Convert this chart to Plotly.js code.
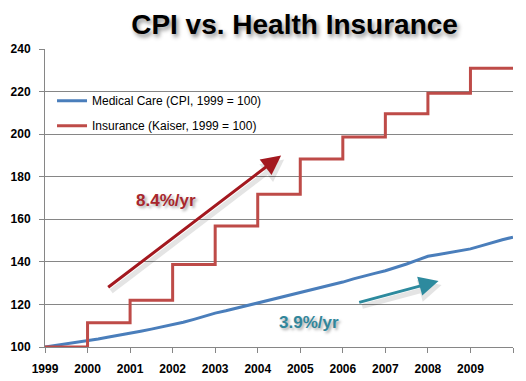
<!DOCTYPE html>
<html>
<head>
<meta charset="utf-8">
<script src="https://cdn.plot.ly/plotly-3.0.1.min.js"></script>
<style>
  html, body { margin: 0; padding: 0; background: #fff; }
  #chart { width: 526px; height: 381px; }
</style>
</head>
<body>
<div id="chart"></div>
<script>
// Years shown on the x axis
const tickYears = [1999, 2000, 2001, 2002, 2003, 2004, 2005, 2006, 2007, 2008, 2009, 2010];
const tickLabels = ["1999", "2000", "2001", "2002", "2003", "2004", "2005", "2006", "2007", "2008", "2009", ""];

// Medical Care CPI (1999 = 100), quarterly readings from Q1 1999 to Q1 2010
const cpiQuarterly = [
  100.0, 100.7, 101.5, 102.2,
  103.0, 103.8, 104.7, 105.5,
  106.4, 107.4, 108.4, 109.4,
  110.4, 111.6, 113.0, 114.5,
  115.9, 117.0, 118.2, 119.4,
  120.6, 121.8, 123.2, 124.5,
  125.7, 126.9, 128.1, 129.3,
  130.5, 132.0, 133.4, 134.6,
  135.8, 137.3, 139.0, 140.8,
  142.6, 143.5, 144.4, 145.2,
  146.1, 147.5, 149.0, 150.4,
  151.6
];

// Insurance premiums (Kaiser, 1999 = 100), one value per year (last = end of 2009)
const insuranceYears = [1999, 2000, 2001, 2002, 2003, 2004, 2005, 2006, 2007, 2008, 2009, 2010];
const insuranceValues = [100, 111.4, 122, 138.7, 156.8, 171.8, 188.3, 198.6, 209.6, 219.2, 231, 231];

const seriesNames = ["Medical Care (CPI, 1999 = 100)", "Insurance (Kaiser, 1999 = 100)"];
const rateLabels = ["8.4%/yr", "3.9%/yr"];

const cpiX = cpiQuarterly.map((_, i) => 1999 + i / 4);

const traces = [
  {
    x: cpiX, y: cpiQuarterly, name: seriesNames[0], type: "scatter", mode: "lines",
    legendgroup: "a",
    line: { color: "#4A7EBB", width: 3 }
  },
  {
    x: insuranceYears, y: insuranceValues, name: seriesNames[1], type: "scatter", mode: "lines",
    legendgroup: "b",
    line: { color: "#BE4B48", width: 3, shape: "hv" }
  }
];

const redArrow = { x: 2004.55, y: 190, ax: 2000.45, ay: 127.5 };
const tealArrow = { x: 2008.25, y: 131, ax: 2006.35, ay: 120.8 };

function arrow(a, color, shadow) {
  return {
    x: a.x, y: a.y, ax: a.ax, ay: a.ay, xref: "x", yref: "y", axref: "x", ayref: "y",
    text: "", showarrow: true, arrowhead: 2, arrowsize: shadow ? 0.9 : 1.3, arrowwidth: shadow ? 5 : 3,
    arrowcolor: color, standoff: 0, startstandoff: 0,
    xshift: shadow ? 3 : 0, yshift: shadow ? -4 : 0
  };
}

const layout = {
  width: 526, height: 381,
  margin: { l: 45, r: 13, t: 49, b: 34, pad: 0 },
  paper_bgcolor: "#ffffff", plot_bgcolor: "#ffffff",
  font: { family: "Liberation Sans, Arial, sans-serif", color: "#000" },
  title: {
    text: "<b>CPI vs. Health Insurance</b>",
    font: { family: "Liberation Sans, Arial, sans-serif", size: 28, color: "#000",
            shadow: "2px 3px 4px rgba(0,0,0,0.45)" },
    x: 0.56, xanchor: "center", y: 0.937, yanchor: "middle"
  },
  showlegend: true,
  legend: {
    x: 0.015, y: 0.875, xanchor: "left", yanchor: "top",
    bgcolor: "rgba(0,0,0,0)", borderwidth: 0,
    font: { family: "Liberation Sans, Arial, sans-serif", size: 12, color: "#000" },
    itemwidth: 30, tracegroupgap: 6
  },
  xaxis: {
    range: [1999, 2010], tickmode: "array", tickvals: tickYears, ticktext: tickLabels,
    showgrid: false, zeroline: false, showline: true, linecolor: "#868686", linewidth: 1,
    ticks: "outside", ticklen: 5, tickcolor: "#868686",
    tickfont: { family: "Liberation Sans, Arial, sans-serif", size: 12, color: "#000", weight: "bold" },
    ticklabelstandoff: 6,
    fixedrange: true
  },
  yaxis: {
    range: [100, 240], dtick: 20, tick0: 100,
    showgrid: true, gridcolor: "#868686", gridwidth: 1, zeroline: false,
    showline: true, linecolor: "#868686", linewidth: 1,
    ticks: "outside", ticklen: 5, tickcolor: "#868686",
    tickfont: { family: "Liberation Sans, Arial, sans-serif", size: 12, color: "#000", weight: "bold" },
    ticklabelstandoff: 6,
    fixedrange: true
  },
  annotations: [
    arrow(redArrow, "rgba(0,0,0,0.10)", true),
    arrow(tealArrow, "rgba(0,0,0,0.10)", true),
    arrow(redArrow, "#A3181F", false),
    arrow(tealArrow, "#2D8A9E", false),
    {
      x: 2001.85, y: 169, xref: "x", yref: "y", text: "<b>" + rateLabels[0] + "</b>", showarrow: false,
      font: { family: "Liberation Sans, Arial, sans-serif", size: 17, color: "#A8262C",
              shadow: "2px 2px 3px rgba(0,0,0,0.35)" }
    },
    {
      x: 2005.2, y: 111.3, xref: "x", yref: "y", text: "<b>" + rateLabels[1] + "</b>", showarrow: false,
      font: { family: "Liberation Sans, Arial, sans-serif", size: 17, color: "#31869B",
              shadow: "2px 2px 3px rgba(0,0,0,0.35)" }
    }
  ]
};

Plotly.newPlot("chart", traces, layout, { displayModeBar: false, staticPlot: true });
</script>
</body>
</html>
